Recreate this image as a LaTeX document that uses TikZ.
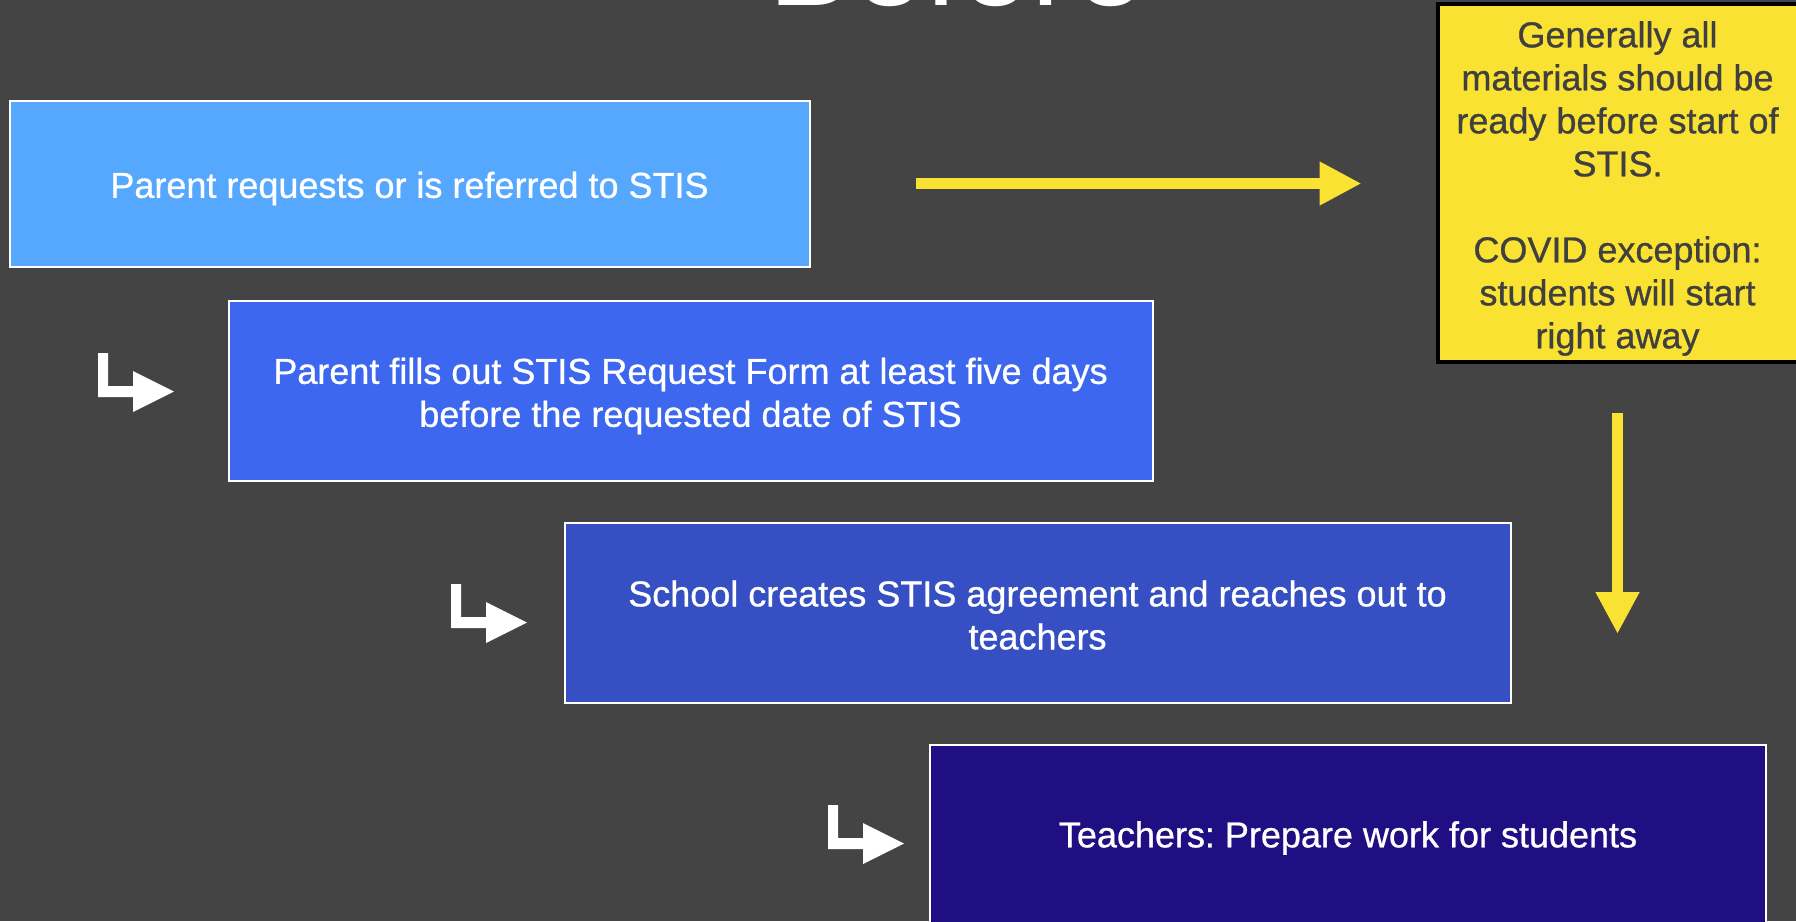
\documentclass[tikz,border=0pt]{standalone}
\usepackage{fontspec}
\setmainfont{Liberation Sans}[BoldFont=Liberation Sans, BoldFeatures={FakeBold=0.8}]
\frenchspacing
\usetikzlibrary{arrows.meta}
\definecolor{bg}{HTML}{444444}
\definecolor{cA}{HTML}{56A8FE}
\definecolor{cB}{HTML}{3D67EE}
\definecolor{cC}{HTML}{3650C3}
\definecolor{cD}{HTML}{200F83}
\definecolor{yel}{HTML}{F9E231}
\definecolor{ink}{HTML}{404040}
\tikzset{
  stepbox/.style={rectangle, draw=white, line width=2pt, inner sep=0pt},
  notebox/.style={rectangle, draw=black, line width=4pt, fill=yel, inner sep=0pt},
  steptext/.style={inner sep=0pt, text=white, align=center, font=\fontsize{36}{43}\selectfont\bfseries},
  notetext/.style={inner sep=0pt, text=ink, align=center, font=\fontsize{36}{43}\selectfont\bfseries},
  yarrow/.style={draw=yel, line width=11pt, -{Triangle[length=42pt,width=41pt]}},
  turn/.pic={\fill[white] (0,0) -- (10,0) -- (10,33) -- (35,33) -- (35,18) -- (76,38.5)
     -- (35,59) -- (35,44) -- (0,44) -- cycle;}
}
\begin{document}
\begin{tikzpicture}[x=1pt,y=-1pt]
\fill[bg] (0,0) rectangle (1796,921);
\useasboundingbox (0,0) rectangle (1796,921);
\clip (0,0) rectangle (1796,921);
\node[anchor=base, text=white, font=\fontsize{128}{150}\selectfont] (title) at (957,5) {Before};
\node[stepbox, fill=cA, minimum width=800pt, minimum height=166pt] (b1) at (409.5,183.5) {};
\node[stepbox, fill=cB, minimum width=924pt, minimum height=180pt] (b2) at (690.5,391) {};
\node[stepbox, fill=cC, minimum width=946pt, minimum height=180pt] (b3) at (1037.5,613) {};
\node[stepbox, fill=cD, minimum width=836pt, minimum height=180pt] (b4) at (1348,835) {};
\node[notebox, minimum width=360pt, minimum height=358pt] (note) at (1617.5,182.5) {};
\node[steptext, yshift=-5pt] (t1) at (b1.center) {Parent requests or is referred to STIS};
\node[steptext, yshift=-5pt] (t2) at (b2.center)
  {Parent fills out STIS Request Form at least five days\\before the requested date of STIS};
\node[steptext, yshift=-2pt] (t3) at (b3.center)
  {School creates STIS agreement and reaches out to\\teachers};
\node[steptext, yshift=-3pt] (t4) at (b4.center) {Teachers: Prepare work for students};
\node[notetext, yshift=-6pt] (tn) at (note.center)
  {Generally all\\materials should be\\ready before start of\\STIS.\\\mbox{}\\COVID exception:\\students will start\\right away};
\draw[yarrow, shorten <=105pt, shorten >=74pt] (b1.east) -- (b1.east -| note.west);
\coordinate (vend) at (1617.5,634);
\draw[yarrow, shorten <=49pt] (note.south) -- (vend);
\pic at (98,353) {turn};
\pic at (451,584) {turn};
\pic at (828,805) {turn};
\end{tikzpicture}
\end{document}
